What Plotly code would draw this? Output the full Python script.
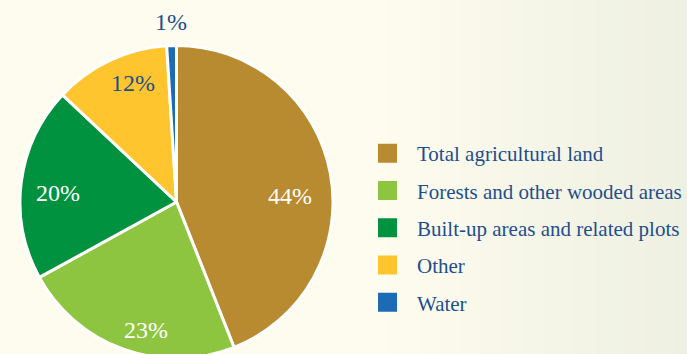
import math
import plotly.graph_objects as go

categories = ["Total agricultural land", "Forests and other wooded areas",
              "Built-up areas and related plots", "Other", "Water"]
values = [44, 23, 20, 12, 1]
colors = ["#B98B30", "#8DC540", "#00923F", "#FEC52E", "#1E6BB5"]
label_colors = ["#FFFFFF", "#FFFFFF", "#FFFFFF", "#1D4F8C", "#1D4F8C"]
# label placement (style): angle clockwise from 12 o'clock in degrees, distance as share of radius
label_angle = [87.0, 193.4, 274.4, 339.8, 358.2]
label_radius = [0.728, 0.84, 0.757, 0.813, 1.15]

W, H = 687, 362          # page window is 354 tall; the pie runs slightly past the bottom edge
FONT = "Liberation Serif"
TEXT_BLUE = "#1D4F8C"

# pie geometry (pixels)
R = 156.5
CX = 176.5
CY_TOP = 202.0
CY = H - CY_TOP          # centre measured from the bottom

fig = go.Figure()

fig.add_trace(go.Pie(
    labels=categories, values=values, sort=False, direction="clockwise", rotation=0,
    marker=dict(colors=colors, line=dict(color="white", width=3)),
    textinfo="none",
    domain=dict(x=[(CX - R) / W, (CX + R) / W], y=[(CY - R) / H, (CY + R) / H]),
    showlegend=False, hoverinfo="label+percent",
))

total = sum(values)
annotations = []
for v, col, ang, fr in zip(values, label_colors, label_angle, label_radius):
    a = math.radians(ang)
    px = CX + fr * R * math.sin(a)
    py = CY + fr * R * math.cos(a)
    annotations.append(dict(
        x=px / W, y=py / H, xref="paper", yref="paper", showarrow=False,
        xanchor="center", yanchor="middle",
        text=f"{round(v / total * 100)}%",
        font=dict(family=FONT, size=24, color=col),
    ))

for i, (name, col) in enumerate(zip(categories, colors)):
    fig.add_trace(go.Scatter(
        x=[None], y=[None], mode="markers", name=name, legendgroup=f"g{i}",
        marker=dict(symbol="square", size=16, color=col, line=dict(color=col, width=3)),
    ))

# subtle background gradient toward the right edge
shapes = []
n = 30
x_start = 0.55
c0 = (0xFE, 0xFC, 0xEE)
c1 = (0xEE, 0xF0, 0xE2)
for k in range(n):
    t = (k + 0.5) / n
    c = tuple(round(a + (b - a) * t) for a, b in zip(c0, c1))
    shapes.append(dict(type="rect", xref="paper", yref="paper", layer="below",
                       x0=x_start + (1 - x_start) * k / n, x1=x_start + (1 - x_start) * (k + 1) / n + 0.002,
                       y0=0, y1=1, line=dict(width=0), fillcolor="rgb(%d,%d,%d)" % c))

fig.update_layout(
    width=W, height=H, margin=dict(l=0, r=0, t=0, b=0),
    paper_bgcolor="#FEFCEE", plot_bgcolor="rgba(0,0,0,0)",
    xaxis=dict(visible=False), yaxis=dict(visible=False),
    shapes=shapes, annotations=annotations,
    legend=dict(x=358 / W, y=1 - 133 / H, xanchor="left", yanchor="top",
                font=dict(family=FONT, size=21, color=TEXT_BLUE),
                traceorder="grouped", tracegroupgap=7, itemwidth=49,
                bgcolor="rgba(0,0,0,0)"),
    showlegend=True,
)

fig.write_html(
    "out.html",
    post_script="document.documentElement.style.overflow='hidden';document.body.style.overflow='hidden';",
)
